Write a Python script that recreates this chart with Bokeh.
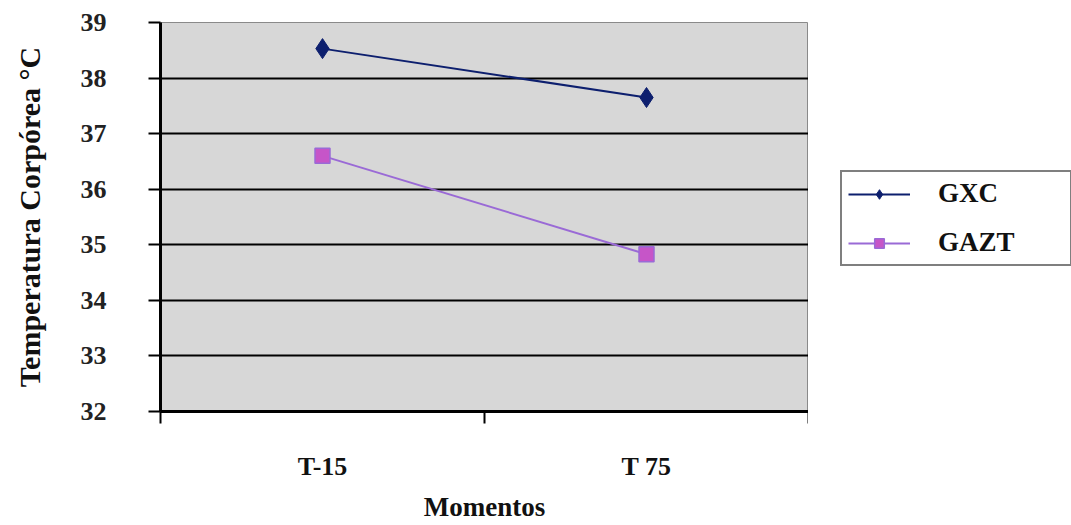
from bokeh.plotting import figure
from bokeh.layouts import row
from bokeh.models import Range1d, FixedTicker, Legend, LegendItem
from bokeh.embed import file_html
from bokeh.resources import INLINE

# ---- data ----
categories = ["T-15", "T 75"]
gxc = [38.53, 37.65]
gazt = [36.60, 34.83]
y_ticks = [32, 33, 34, 35, 36, 37, 38, 39]
series_names = ["GXC", "GAZT"]
y_label = "Temperatura Corpórea °C"
x_label = "Momentos"

n = len(categories)
x_pos = [i + 0.5 for i in range(n)]
x_bounds = list(range(n + 1))

FONT = "Liberation Serif"
C_GXC = "#0d1f6e"
C_GAZT_LINE = "#9a6ad6"
C_GAZT_FILL = "#c655c8"


def add_series(fig):
    r1 = fig.line(x_pos, gxc, line_color=C_GXC, line_width=2)
    r2 = fig.scatter(x_pos, gxc, marker="diamond", size=20, fill_color=C_GXC, line_color=C_GXC)
    r3 = fig.line(x_pos, gazt, line_color=C_GAZT_LINE, line_width=2)
    r4 = fig.scatter(x_pos, gazt, marker="square", size=15, fill_color=C_GAZT_FILL,
                     line_color=C_GAZT_LINE, line_width=1.5)
    return r1, r2, r3, r4


p = figure(frame_width=648, frame_height=389, output_backend="svg", toolbar_location=None,
           x_range=Range1d(0, n), y_range=Range1d(min(y_ticks), max(y_ticks)),
           min_border_left=160, min_border_right=0, min_border_top=22, min_border_bottom=110,
           border_fill_color="white")

p.background_fill_color = "#d7d7d7"
p.outline_line_color = "#8a8a8a"
p.outline_line_width = 1
p.xgrid.visible = False
p.ygrid.ticker = FixedTicker(ticks=y_ticks)
p.ygrid.grid_line_color = "black"
p.ygrid.grid_line_width = 2

# y axis
ya = p.yaxis[0]
ya.ticker = FixedTicker(ticks=y_ticks)
ya.axis_line_color = "black"
ya.axis_line_width = 3
ya.major_tick_line_color = "black"
ya.major_tick_line_width = 2
ya.major_tick_out = 12
ya.major_tick_in = 0
ya.minor_tick_line_color = None
ya.major_label_text_font = FONT
ya.major_label_text_font_style = "bold"
ya.major_label_text_font_size = "26px"
ya.major_label_text_color = "#222222"
ya.major_label_standoff = 42
ya.axis_label = y_label
ya.axis_label_text_font = FONT
ya.axis_label_text_font_style = "bold"
ya.axis_label_text_font_size = "30px"
ya.axis_label_text_color = "#111111"
ya.axis_label_standoff = 32

# x axis
xa = p.xaxis[0]
xa.ticker = FixedTicker(ticks=x_pos, minor_ticks=x_bounds)
xa.major_label_overrides = {x: c for x, c in zip(x_pos, categories)}
xa.axis_line_color = "black"
xa.axis_line_width = 3
xa.major_tick_out = 0
xa.major_tick_in = 0
xa.major_tick_line_color = None
xa.minor_tick_line_color = "black"
xa.minor_tick_line_width = 2
xa.minor_tick_out = 12
xa.minor_tick_in = 0
xa.major_label_text_font = FONT
xa.major_label_text_font_style = "bold"
xa.major_label_text_font_size = "26px"
xa.major_label_text_color = "#111111"
xa.major_label_standoff = 28
xa.axis_label = x_label
xa.axis_label_text_font = FONT
xa.axis_label_text_font_style = "bold"
xa.axis_label_text_font_size = "27px"
xa.axis_label_text_color = "#111111"
xa.axis_label_standoff = 8

# series
add_series(p)

# legend panel to the right of the chart (its frame is aligned with the chart frame);
# the same series are drawn there outside the visible range, only to feed the legend
lf = figure(width=263, height=525, output_backend="svg", toolbar_location=None,
            x_axis_type=None, y_axis_type=None, min_border=0,
            x_range=Range1d(10, 11), y_range=Range1d(0, 1), border_fill_color="white")
lf.outline_line_color = None
lf.background_fill_color = "white"
lf.grid.visible = False
k1, m1, k2, m2 = add_series(lf)

legend = Legend(items=[LegendItem(label=series_names[0], renderers=[k1, m1]),
                       LegendItem(label=series_names[1], renderers=[k2, m2])],
                location=(32, 146))
legend.border_line_color = "black"
legend.border_line_width = 2
legend.background_fill_color = "white"
legend.background_fill_alpha = 1
legend.padding = 6
legend.margin = 0
legend.spacing = 18
legend.glyph_width = 62
legend.glyph_height = 24
legend.label_height = 24
legend.label_width = 126
legend.label_standoff = 28
legend.label_text_font = FONT
legend.label_text_font_style = "bold"
legend.label_text_font_size = "27px"
legend.label_text_color = "#111111"
lf.add_layout(legend)

layout = row(p, lf, spacing=0)
open("out.html", "w").write(file_html(layout, INLINE))
